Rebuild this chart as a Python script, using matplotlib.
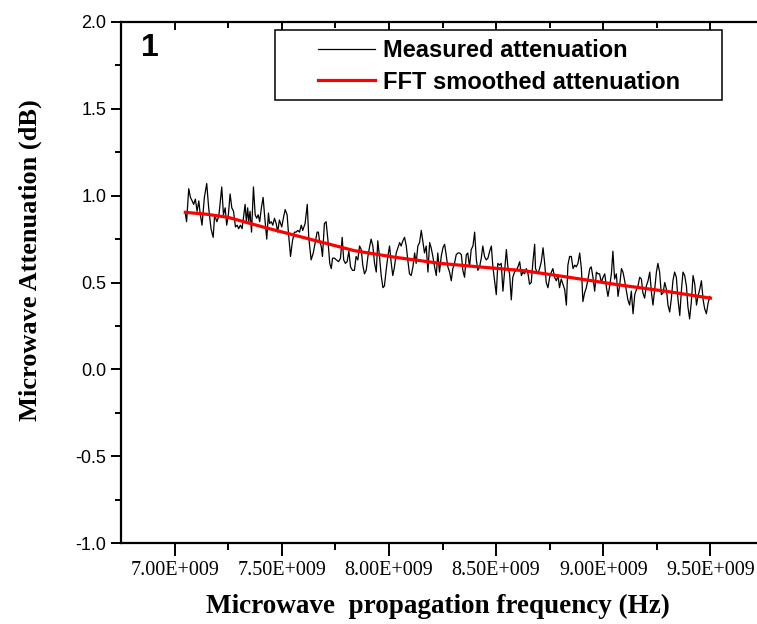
import matplotlib
matplotlib.use("Agg")
import matplotlib.pyplot as plt
from matplotlib.patches import Rectangle
from matplotlib.ticker import FixedLocator, NullFormatter

# ---------------- data (frequency in GHz, attenuation in dB) ----------------
meas_freq_ghz = [
    7.050, 7.056, 7.066, 7.074, 7.082, 7.089, 7.097, 7.105, 7.113, 7.119,
    7.128, 7.139, 7.150, 7.159, 7.170, 7.180, 7.187, 7.197, 7.206, 7.212,
    7.220, 7.228, 7.236, 7.243, 7.251, 7.259, 7.267, 7.275, 7.284, 7.292,
    7.299, 7.307, 7.315, 7.323, 7.329, 7.335, 7.341, 7.346, 7.352, 7.359,
    7.368, 7.376, 7.383, 7.390, 7.397, 7.405, 7.413, 7.421, 7.430, 7.438,
    7.443, 7.451, 7.458, 7.466, 7.474, 7.481, 7.489, 7.500, 7.509, 7.516,
    7.525, 7.531, 7.541, 7.550, 7.559, 7.567, 7.575, 7.583, 7.591, 7.598,
    7.609, 7.619, 7.626, 7.637, 7.647, 7.656, 7.665, 7.671, 7.676, 7.684,
    7.690, 7.699, 7.707, 7.715, 7.724, 7.731, 7.737, 7.746, 7.755, 7.765,
    7.774, 7.782, 7.789, 7.797, 7.805, 7.813, 7.821, 7.830, 7.839, 7.847,
    7.855, 7.863, 7.871, 7.878, 7.886, 7.894, 7.902, 7.909, 7.917, 7.925,
    7.933, 7.941, 7.948, 7.956, 7.964, 7.972, 7.979, 7.987, 7.995, 8.003,
    8.011, 8.018, 8.026, 8.034, 8.042, 8.050, 8.057, 8.065, 8.073, 8.081,
    8.088, 8.096, 8.104, 8.112, 8.120, 8.127, 8.135, 8.143, 8.151, 8.158,
    8.166, 8.174, 8.182, 8.190, 8.197, 8.205, 8.213, 8.221, 8.228, 8.236,
    8.244, 8.252, 8.260, 8.268, 8.275, 8.283, 8.291, 8.298, 8.306, 8.314,
    8.322, 8.330, 8.338, 8.345, 8.353, 8.361, 8.368, 8.376, 8.384, 8.392,
    8.400, 8.408, 8.415, 8.423, 8.431, 8.438, 8.446, 8.454, 8.462, 8.470,
    8.478, 8.485, 8.493, 8.501, 8.508, 8.516, 8.524, 8.532, 8.540, 8.548,
    8.555, 8.563, 8.571, 8.578, 8.586, 8.594, 8.602, 8.610, 8.618, 8.625,
    8.633, 8.641, 8.649, 8.656, 8.664, 8.672, 8.680, 8.684, 8.691, 8.695,
    8.703, 8.711, 8.719, 8.726, 8.734, 8.742, 8.750, 8.758, 8.765, 8.773,
    8.781, 8.789, 8.796, 8.804, 8.812, 8.820, 8.828, 8.835, 8.843, 8.851,
    8.859, 8.867, 8.874, 8.882, 8.890, 8.898, 8.905, 8.913, 8.921, 8.929,
    8.937, 8.944, 8.952, 8.960, 8.968, 8.975, 8.983, 8.991, 8.999, 9.007,
    9.015, 9.022, 9.030, 9.038, 9.045, 9.053, 9.061, 9.069, 9.077, 9.085,
    9.092, 9.100, 9.108, 9.115, 9.123, 9.131, 9.139, 9.147, 9.155, 9.162,
    9.170, 9.178, 9.185, 9.193, 9.201, 9.209, 9.217, 9.225, 9.232, 9.240,
    9.248, 9.255, 9.263, 9.271, 9.279, 9.287, 9.295, 9.302, 9.310, 9.318,
    9.325, 9.333, 9.341, 9.349, 9.357, 9.365, 9.372, 9.380, 9.388, 9.395,
    9.403, 9.411, 9.419, 9.427, 9.435, 9.442, 9.450, 9.458, 9.466, 9.473,
    9.481, 9.489, 9.497,
]
meas_atten_db = [
    0.90, 0.85, 1.04, 0.99, 0.97, 0.95, 0.98, 0.91, 0.97, 0.90,
    0.83, 0.99, 1.07, 0.93, 0.81, 0.76, 0.89, 0.85, 0.88, 0.95,
    1.05, 0.89, 0.93, 0.83, 0.89, 1.01, 0.93, 0.91, 0.82, 0.83,
    0.81, 0.83, 0.81, 0.89, 0.95, 0.85, 0.93, 0.85, 0.91, 0.79,
    1.05, 0.89, 0.87, 0.89, 0.85, 0.93, 0.99, 0.87, 0.75, 0.90,
    0.84, 0.85, 0.83, 0.87, 0.84, 0.79, 0.86, 0.82, 0.88, 0.92,
    0.89, 0.79, 0.65, 0.74, 0.79, 0.79, 0.80, 0.79, 0.83, 0.80,
    0.84, 0.95, 0.76, 0.63, 0.67, 0.73, 0.79, 0.79, 0.74, 0.71,
    0.65, 0.84, 0.85, 0.75, 0.61, 0.58, 0.64, 0.64, 0.63, 0.62,
    0.64, 0.76, 0.63, 0.61, 0.62, 0.68, 0.59, 0.57, 0.57, 0.65,
    0.63, 0.71, 0.69, 0.60, 0.55, 0.57, 0.65, 0.70, 0.75, 0.71,
    0.61, 0.56, 0.74, 0.65, 0.54, 0.47, 0.48, 0.57, 0.65, 0.71,
    0.61, 0.54, 0.59, 0.67, 0.70, 0.73, 0.71, 0.74, 0.76, 0.71,
    0.63, 0.55, 0.54, 0.59, 0.67, 0.61, 0.71, 0.73, 0.80, 0.74,
    0.67, 0.71, 0.56, 0.73, 0.70, 0.65, 0.59, 0.54, 0.67, 0.56,
    0.65, 0.70, 0.72, 0.65, 0.59, 0.56, 0.51, 0.58, 0.61, 0.66,
    0.67, 0.67, 0.66, 0.57, 0.53, 0.66, 0.67, 0.59, 0.69, 0.71,
    0.79, 0.63, 0.57, 0.59, 0.64, 0.71, 0.65, 0.63, 0.64, 0.68,
    0.71, 0.59, 0.51, 0.43, 0.61, 0.60, 0.61, 0.45, 0.57, 0.69,
    0.59, 0.55, 0.40, 0.53, 0.56, 0.57, 0.59, 0.62, 0.54, 0.56,
    0.55, 0.58, 0.55, 0.49, 0.50, 0.62, 0.72, 0.58, 0.56, 0.55,
    0.58, 0.62, 0.70, 0.62, 0.50, 0.47, 0.53, 0.56, 0.58, 0.53,
    0.51, 0.54, 0.47, 0.52, 0.49, 0.46, 0.37, 0.60, 0.65, 0.65,
    0.58, 0.60, 0.59, 0.61, 0.67, 0.58, 0.39, 0.44, 0.47, 0.52,
    0.58, 0.59, 0.53, 0.45, 0.56, 0.55, 0.55, 0.50, 0.53, 0.55,
    0.47, 0.42, 0.48, 0.55, 0.68, 0.52, 0.55, 0.42, 0.49, 0.58,
    0.56, 0.51, 0.45, 0.40, 0.37, 0.45, 0.32, 0.43, 0.46, 0.48,
    0.53, 0.52, 0.44, 0.41, 0.48, 0.51, 0.56, 0.44, 0.37, 0.46,
    0.56, 0.61, 0.56, 0.43, 0.44, 0.50, 0.46, 0.37, 0.33, 0.41,
    0.51, 0.56, 0.53, 0.40, 0.31, 0.46, 0.56, 0.54, 0.48, 0.36,
    0.29, 0.39, 0.54, 0.49, 0.37, 0.42, 0.46, 0.51, 0.40, 0.35,
    0.32, 0.38, 0.42,
]
smooth_freq_ghz = [7.05, 7.15, 7.25, 7.42, 7.63, 7.84, 8.03, 8.24, 8.42, 8.63,
                   8.84, 9.08, 9.29, 9.50]
smooth_atten_db = [0.904, 0.893, 0.875, 0.817, 0.750, 0.683, 0.645, 0.610, 0.590,
                   0.568, 0.530, 0.485, 0.450, 0.410]

xtick_vals_ghz = [7.0, 7.5, 8.0, 8.5, 9.0, 9.5]
xtick_labels = ["7.00E+009", "7.50E+009", "8.00E+009", "8.50E+009",
                "9.00E+009", "9.50E+009"]
ytick_vals = [-1.0, -0.5, 0.0, 0.5, 1.0, 1.5, 2.0]
ytick_labels = ["-1.0", "-0.5", "0.0", "0.5", "1.0", "1.5", "2.0"]

series_labels = ["Measured attenuation", "FFT smoothed attenuation"]
x_title = "Microwave  propagation frequency (Hz)"
y_title = "Microwave Attenuation (dB)"
panel_tag = "1"

# ---------------- figure ----------------
W, H = 757, 624
fig = plt.figure(figsize=(W / 100, H / 100), dpi=100)

def fx(px):
    return px / W

def fy(py):
    return 1 - py / H

ax_left, ax_right, ax_top, ax_bottom = 121, 764, 22, 543
ax = fig.add_axes([fx(ax_left), fy(ax_bottom), fx(ax_right - ax_left),
                   (ax_bottom - ax_top) / H])

mf = [v * 1e9 for v in meas_freq_ghz]
sf = [v * 1e9 for v in smooth_freq_ghz]
ax.plot(mf, meas_atten_db, color="black", lw=0.9, zorder=2)
ax.plot(sf, smooth_atten_db, color="#ff0000", lw=2.3, zorder=3,
        solid_joinstyle="round")

ax.set_xlim(6.75e9, 9.75e9)
ax.set_ylim(-1.0, 2.0)

sans = ["Liberation Sans", "DejaVu Sans"]
serif = ["Liberation Serif", "DejaVu Serif"]

ax.xaxis.set_major_locator(FixedLocator([v * 1e9 for v in xtick_vals_ghz]))
ax.xaxis.set_minor_locator(FixedLocator([(v + 0.25) * 1e9 for v in [6.75] + xtick_vals_ghz]))
ax.set_xticklabels(xtick_labels, fontfamily=serif, fontsize=14.5)
ax.yaxis.set_major_locator(FixedLocator(ytick_vals))
ax.yaxis.set_minor_locator(FixedLocator([-0.75, -0.25, 0.25, 0.75, 1.25, 1.75]))
ax.set_yticklabels(ytick_labels, fontfamily=sans, fontsize=13)

ax.tick_params(axis="x", which="major", direction="out", length=9, width=1.4, pad=4,
               top=False)
ax.tick_params(axis="x", which="minor", direction="out", length=5, width=1.4,
               top=False)
ax.tick_params(axis="y", which="major", direction="out", length=7.5, width=1.4, pad=3,
               right=False)
ax.tick_params(axis="y", which="minor", direction="out", length=4, width=1.4,
               right=False)

for s in ["left", "bottom"]:
    ax.spines[s].set_linewidth(1.6)
ax.spines["right"].set_visible(False)
ax.spines["top"].set_visible(False)

sec = ax.secondary_xaxis("top")
sec.xaxis.set_major_locator(FixedLocator([v * 1e9 for v in xtick_vals_ghz]))
sec.xaxis.set_minor_locator(FixedLocator([(v + 0.25) * 1e9 for v in [6.75] + xtick_vals_ghz]))
sec.xaxis.set_major_formatter(NullFormatter())
sec.xaxis.set_minor_formatter(NullFormatter())
sec.tick_params(which="major", direction="in", length=6, width=1.4)
sec.tick_params(which="minor", direction="in", length=4.5, width=1.4)
sec.spines["top"].set_linewidth(1.6)

# legend box and entries
box = Rectangle((fx(275), fy(100)), fx(722 - 275), (100 - 30) / H,
                transform=fig.transFigure, fill=True, fc="white",
                ec="black", lw=1.1, zorder=5, clip_on=False)
ax.add_patch(box)
leg = ax.legend(series_labels, loc="upper left",
                bbox_to_anchor=(fx(318), fy(39)), bbox_transform=fig.transFigure,
                frameon=False, borderpad=0, borderaxespad=0, handlelength=2.4,
                handletextpad=0.35, labelspacing=0.37,
                prop={"family": sans, "weight": "bold", "size": 17})
leg.set_zorder(6)

fig.text(fx(150), fy(48), panel_tag, fontfamily=sans, fontweight="bold",
         fontsize=23, ha="center", va="center")
fig.text(fx(438), fy(606), x_title, fontfamily=serif, fontweight="bold",
         fontsize=19.5, ha="center", va="center")
fig.text(fx(30), fy(260), y_title, fontfamily=serif, fontweight="bold",
         fontsize=19, ha="center", va="center", rotation=90)

fig.savefig("out.png", dpi=100)
